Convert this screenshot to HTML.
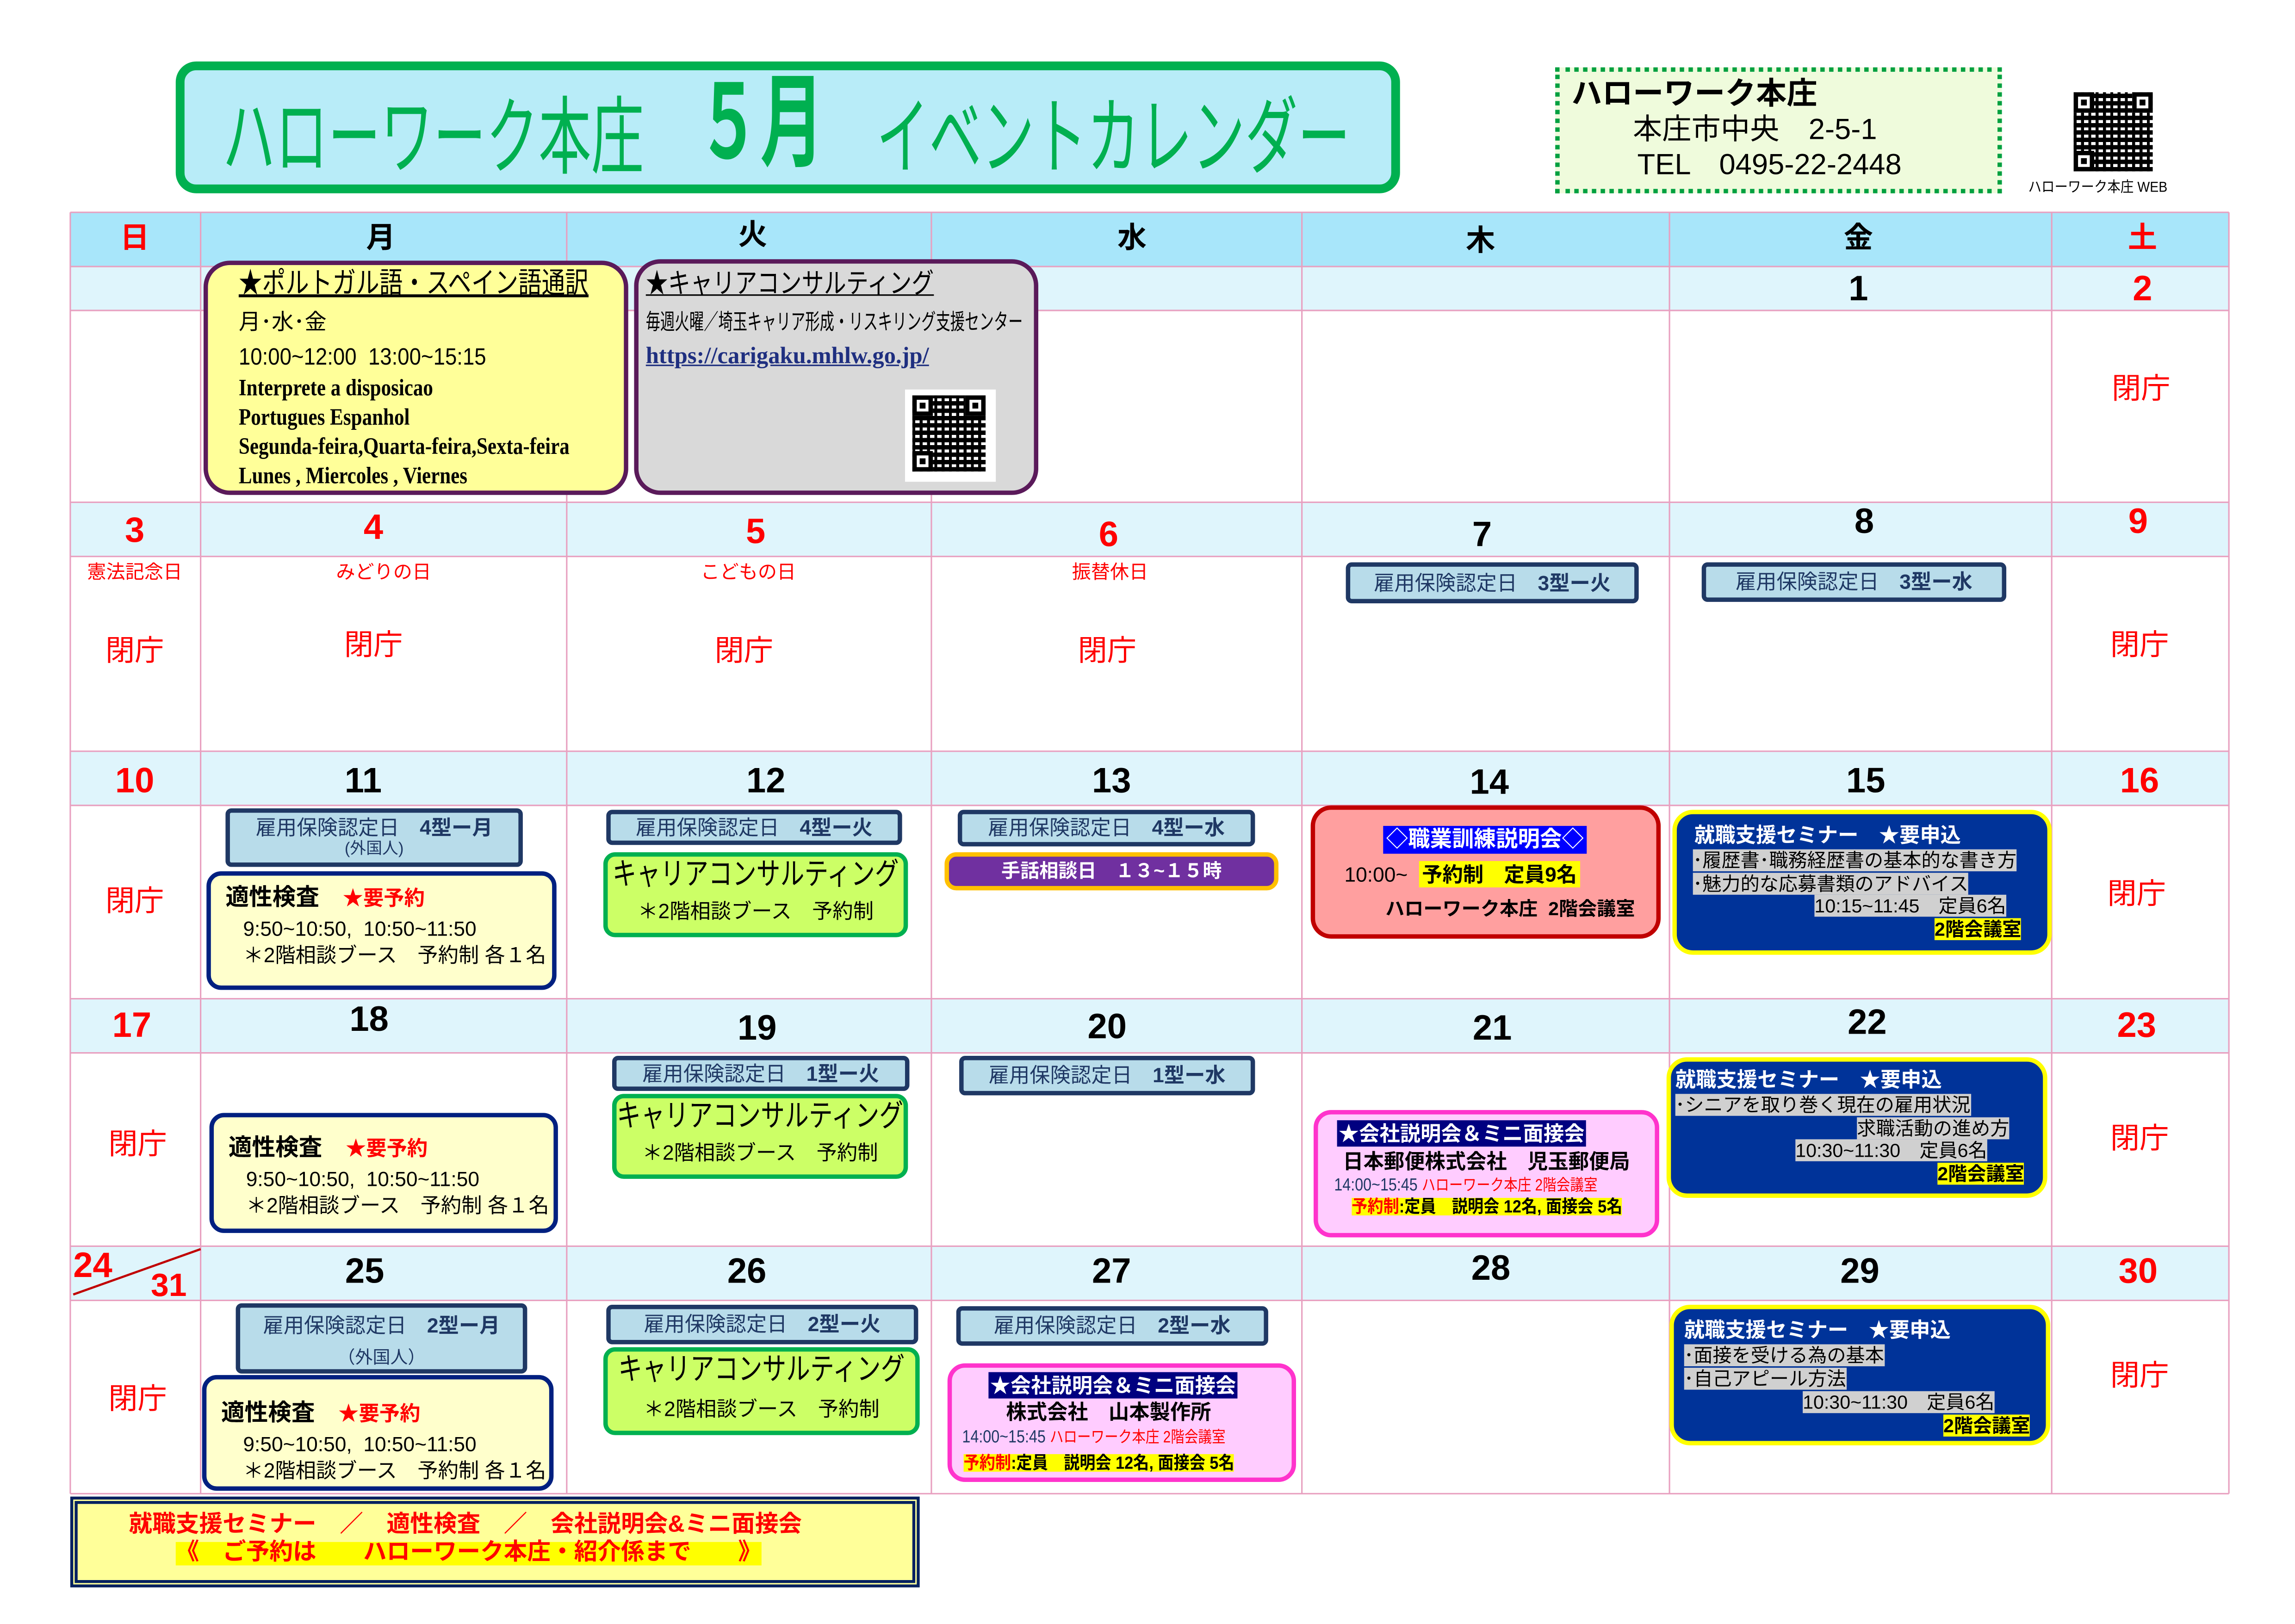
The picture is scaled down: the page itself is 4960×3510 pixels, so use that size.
<!DOCTYPE html>
<html><head><meta charset="utf-8">
<style>
*{margin:0;padding:0;box-sizing:border-box}
html,body{width:4960px;height:3509px;overflow:hidden;background:#fff}
#s{position:absolute;left:0;top:0;width:1567px;height:1109px;transform-origin:0 0;transform:scale(3.165,3.165);font-family:"Liberation Sans","Noto Sans CJK JP",sans-serif;color:#000}
.a{position:absolute;white-space:nowrap;line-height:1}
.c{transform:translateX(-50%)}
.b{position:absolute}
.d{font-size:24px;font-weight:bold}
.r{color:#f00}
.h{font-size:20px;color:#f00}
.k{position:absolute;background:#b8dcea;border:3px solid #1f3864;border-radius:4px;font-size:14px;text-align:center;line-height:20px;color:#1f3864;white-space:nowrap}
.k b{color:#1f3864}
.t{position:absolute;background:#ffffcc;border:3px solid #002080;border-radius:10px;font-size:14px;line-height:18px;padding:4px 0 0 10px;white-space:nowrap}
.cc{position:absolute;background:#ccff66;border:3px solid #00b050;border-radius:8px;white-space:nowrap}
.cc .t1{position:absolute;left:50%;top:2px;font-size:21px;line-height:1;transform:translateX(-50%) scaleX(0.78)}
.cc .t2{position:absolute;left:50%;bottom:8px;font-size:14px;line-height:1;transform:translateX(-50%)}
.nv{position:absolute;background:#003399;border:3px solid #ffff00;border-radius:14px;color:#fff;font-size:13px}
.g{background:#d0d0d0;color:#000}
.y{background:#ffff00;color:#000}
.pk{position:absolute;background:#ffccff;border:3px solid #ff33cc;border-radius:12px;text-align:center}
.qr{position:absolute;background-color:#fff;background-image:repeating-linear-gradient(90deg,#000 0 2px,transparent 2px 5px),repeating-linear-gradient(0deg,#000 0 3px,transparent 3px 5px)}
.fp{position:absolute;width:14px;height:14px;border:3px solid #000;background:#fff}
.fp:after{content:"";position:absolute;left:2px;top:2px;width:4px;height:4px;background:#000}
</style></head><body><div id="s">

<!-- title -->
<div class="b" style="left:120px;top:42px;width:836px;height:90px;border:6px solid #00b050;border-radius:14px;background:#b8ecf8"></div>
<div class="a" style="left:152px;top:55px;font-size:58px;color:#00b050;transform-origin:0 0;transform:scaleX(0.62)">ハローワーク本庄　<span style="font-weight:bold;font-size:70px;position:relative;top:-6px">５月</span>　イベントカレンダー</div>

<!-- info box -->
<div class="b" style="left:1062px;top:46px;width:305px;height:86px;border:3px dotted #00a040;background:#effbdc"></div>
<div class="a" style="left:1073px;top:54px;font-size:21px;font-weight:bold">ハローワーク本庄</div>
<div class="a" style="left:1115px;top:79px;font-size:20px">本庄市中央　2-5-1</div>
<div class="a" style="left:1118px;top:103px;font-size:20px">TEL　0495-22-2448</div>
<div class="qr" style="left:1416px;top:63px;width:54px;height:54px"></div>
<div class="fp" style="left:1416px;top:63px"></div><div class="fp" style="left:1456px;top:63px"></div><div class="fp" style="left:1416px;top:103px"></div>
<div class="a" style="left:1385px;top:124px;font-size:10px;transform-origin:0 0;transform:scaleX(0.9)">ハローワーク本庄 WEB</div>

<!-- grid -->
<svg class="b" style="left:0;top:0" width="1567" height="1109">
<rect x="48" y="145" width="1474" height="37" fill="#a8e6fa"/>
<g fill="#dff5fc">
<rect x="48" y="182" width="1474" height="30"/>
<rect x="48" y="343" width="1474" height="37"/>
<rect x="48" y="513" width="1474" height="37"/>
<rect x="48" y="682" width="1474" height="37"/>
<rect x="48" y="851" width="1474" height="37"/>
</g>
<g stroke="#e8a0c0" stroke-width="1">
<line x1="48" y1="145" x2="1522" y2="145"/><line x1="48" y1="182" x2="1522" y2="182"/><line x1="48" y1="212" x2="1522" y2="212"/>
<line x1="48" y1="343" x2="1522" y2="343"/><line x1="48" y1="380" x2="1522" y2="380"/>
<line x1="48" y1="513" x2="1522" y2="513"/><line x1="48" y1="550" x2="1522" y2="550"/>
<line x1="48" y1="682" x2="1522" y2="682"/><line x1="48" y1="719" x2="1522" y2="719"/>
<line x1="48" y1="851" x2="1522" y2="851"/><line x1="48" y1="888" x2="1522" y2="888"/>
<line x1="48" y1="1020" x2="1522" y2="1020"/>
<line x1="48" y1="145" x2="48" y2="1020"/><line x1="137" y1="145" x2="137" y2="1020"/><line x1="387" y1="145" x2="387" y2="1020"/>
<line x1="636" y1="145" x2="636" y2="1020"/><line x1="889" y1="145" x2="889" y2="1020"/><line x1="1140" y1="145" x2="1140" y2="1020"/>
<line x1="1401" y1="145" x2="1401" y2="1020"/><line x1="1522" y1="145" x2="1522" y2="1020"/>
</g>
<line x1="50" y1="884" x2="137" y2="853" stroke="#c00000" stroke-width="1.5"/>
</svg>

<!-- headers -->
<div class="a c r" style="left:92px;top:153px;font-size:20px;font-weight:bold">日</div>
<div class="a c" style="left:260px;top:153px;font-size:20px;font-weight:bold">月</div>
<div class="a c" style="left:514px;top:151px;font-size:20px;font-weight:bold">火</div>
<div class="a c" style="left:773px;top:153px;font-size:20px;font-weight:bold">水</div>
<div class="a c" style="left:1011px;top:155px;font-size:20px;font-weight:bold">木</div>
<div class="a c" style="left:1269px;top:153px;font-size:20px;font-weight:bold">金</div>
<div class="a c r" style="left:1463px;top:153px;font-size:20px;font-weight:bold">土</div>

<!-- dates -->
<div class="a c d" style="left:1269px;top:186px">1</div>
<div class="a c d r" style="left:1463px;top:186px">2</div>
<div class="a c d r" style="left:92px;top:351px">3</div>
<div class="a c d r" style="left:255px;top:349px">4</div>
<div class="a c d r" style="left:516px;top:352px">5</div>
<div class="a c d r" style="left:757px;top:354px">6</div>
<div class="a c d" style="left:1012px;top:354px">7</div>
<div class="a c d" style="left:1273px;top:345px">8</div>
<div class="a c d r" style="left:1460px;top:345px">9</div>
<div class="a c d r" style="left:92px;top:522px">10</div>
<div class="a c d" style="left:248px;top:522px">11</div>
<div class="a c d" style="left:523px;top:522px">12</div>
<div class="a c d" style="left:759px;top:522px">13</div>
<div class="a c d" style="left:1017px;top:523px">14</div>
<div class="a c d" style="left:1274px;top:522px">15</div>
<div class="a c d r" style="left:1461px;top:522px">16</div>
<div class="a c d r" style="left:90px;top:689px">17</div>
<div class="a c d" style="left:252px;top:685px">18</div>
<div class="a c d" style="left:517px;top:691px">19</div>
<div class="a c d" style="left:756px;top:690px">20</div>
<div class="a c d" style="left:1019px;top:691px">21</div>
<div class="a c d" style="left:1275px;top:687px">22</div>
<div class="a c d r" style="left:1459px;top:689px">23</div>
<div class="a d r" style="left:50px;top:853px">24</div>
<div class="a d r" style="left:103px;top:867px;font-size:22px">31</div>
<div class="a c d" style="left:249px;top:857px">25</div>
<div class="a c d" style="left:510px;top:857px">26</div>
<div class="a c d" style="left:759px;top:857px">27</div>
<div class="a c d" style="left:1018px;top:855px">28</div>
<div class="a c d" style="left:1270px;top:857px">29</div>
<div class="a c d r" style="left:1460px;top:857px">30</div>

<!-- holidays -->
<div class="a c r" style="left:92px;top:384px;font-size:13px">憲法記念日</div>
<div class="a c r" style="left:262px;top:384px;font-size:13px">みどりの日</div>
<div class="a c r" style="left:511px;top:384px;font-size:13px">こどもの日</div>
<div class="a c r" style="left:758px;top:384px;font-size:13px">振替休日</div>
<div class="a c h" style="left:1462px;top:256px">閉庁</div>
<div class="a c h" style="left:92px;top:435px">閉庁</div>
<div class="a c h" style="left:255px;top:431px">閉庁</div>
<div class="a c h" style="left:508px;top:435px">閉庁</div>
<div class="a c h" style="left:756px;top:435px">閉庁</div>
<div class="a c h" style="left:1461px;top:431px">閉庁</div>
<div class="a c h" style="left:92px;top:606px">閉庁</div>
<div class="a c h" style="left:1459px;top:601px">閉庁</div>
<div class="a c h" style="left:94px;top:772px">閉庁</div>
<div class="a c h" style="left:1461px;top:768px">閉庁</div>
<div class="a c h" style="left:94px;top:946px">閉庁</div>
<div class="a c h" style="left:1461px;top:930px">閉庁</div>

<!-- week1 events -->
<div class="b" style="left:139px;top:178px;width:290px;height:160px;background:#ffff99;border:3px solid #5a1a5a;border-radius:18px"></div>
<div class="a" style="left:163px;top:184px;font-size:20px;text-decoration:underline;transform-origin:0 0;transform:scaleX(0.8)">★ポルトガル語・スペイン語通訳</div>
<div class="a" style="left:163px;top:213px;font-size:15px">月･水･金</div>
<div class="a" style="left:163px;top:237px;font-size:16px;transform-origin:0 0;transform:scaleX(0.9)">10:00~12:00&nbsp; 13:00~15:15</div>
<div class="a" style="left:163px;top:258px;font-size:16px;font-weight:bold;font-family:'Liberation Serif',serif;transform-origin:0 0;transform:scaleX(0.85)">Interprete a disposicao</div>
<div class="a" style="left:163px;top:278px;font-size:16px;font-weight:bold;font-family:'Liberation Serif',serif;transform-origin:0 0;transform:scaleX(0.85)">Portugues Espanhol</div>
<div class="a" style="left:163px;top:298px;font-size:16px;font-weight:bold;font-family:'Liberation Serif',serif;transform-origin:0 0;transform:scaleX(0.85)">Segunda-feira,Quarta-feira,Sexta-feira</div>
<div class="a" style="left:163px;top:318px;font-size:16px;font-weight:bold;font-family:'Liberation Serif',serif;transform-origin:0 0;transform:scaleX(0.85)">Lunes , Miercoles , Viernes</div>

<div class="b" style="left:433px;top:177px;width:276px;height:161px;background:#d9d9d9;border:3px solid #5a1a5a;border-radius:18px"></div>
<div class="a" style="left:441px;top:185px;font-size:19px;text-decoration:underline;transform-origin:0 0;transform:scaleX(0.8)">★キャリアコンサルティング</div>
<div class="a" style="left:441px;top:213px;font-size:15px;transform-origin:0 0;transform:scaleX(0.66)">毎週火曜／埼玉キャリア形成・リスキリング支援センター</div>
<div class="a" style="left:441px;top:236px;font-size:16px;font-weight:bold;color:#1f2f80;text-decoration:underline;font-family:'Liberation Serif',serif">https://carigaku.mhlw.go.jp/</div>
<div class="b" style="left:618px;top:266px;width:62px;height:63px;background:#fff"></div>
<div class="qr" style="left:623px;top:270px;width:50px;height:52px"></div>
<div class="fp" style="left:623px;top:270px"></div><div class="fp" style="left:659px;top:270px"></div><div class="fp" style="left:623px;top:308px"></div>

<!-- week2 -->
<div class="k" style="left:919px;top:384px;width:200px;height:28px;line-height:22px">雇用保険認定日　<b>3型ー火</b></div>
<div class="k" style="left:1162px;top:384px;width:208px;height:27px;line-height:21px">雇用保険認定日　<b>3型ー水</b></div>

<!-- week3 -->
<div class="k" style="left:154px;top:552px;width:203px;height:40px;line-height:20px">雇用保険認定日　<b>4型ー月</b><div style="font-size:11px;line-height:11px">(外国人)</div></div>
<div class="t" style="left:141px;top:595px;width:239px;height:81px"><div style="font-size:16px;font-weight:bold;line-height:22px">適性検査　<span class="r" style="font-size:14px">★要予約</span></div><div style="padding-left:12px">9:50~10:50,&nbsp; 10:50~11:50</div><div style="padding-left:12px">＊2階相談ブース　予約制 各１名</div></div>
<div class="k" style="left:414px;top:553px;width:202px;height:24px;line-height:18px">雇用保険認定日　<b>4型ー火</b></div>
<div class="cc" style="left:412px;top:582px;width:208px;height:58px"><div class="t1">キャリアコンサルティング</div><div class="t2">＊2階相談ブース　予約制</div></div>
<div class="k" style="left:654px;top:553px;width:203px;height:25px;line-height:19px">雇用保険認定日　<b>4型ー水</b></div>
<div class="b" style="left:645px;top:582px;width:228px;height:26px;background:#7030a0;border:3px solid #ffc000;border-radius:8px;color:#fff;font-size:13px;font-weight:bold;text-align:center;line-height:20px;white-space:nowrap">手話相談日　１３~１５時</div>
<div class="b" style="left:895px;top:550px;width:239px;height:91px;background:#ff9f9f;border:3px solid #c00000;border-radius:14px"></div>
<div class="a c" style="left:1014px;top:564px;font-size:15px;font-weight:bold;color:#fff;background:#0000ff;padding:2px 2px">◇職業訓練説明会◇</div>
<div class="a" style="left:918px;top:590px;font-size:14px">10:00~&nbsp; <span class="y" style="font-weight:bold;padding:1px 2px">予約制　定員9名</span></div>
<div class="a" style="left:946px;top:614px;font-size:13px;font-weight:bold">ハローワーク本庄&nbsp; 2階会議室</div>
<div class="nv" style="left:1142px;top:553px;width:259px;height:99px"></div>
<div class="a" style="left:1157px;top:563px;font-size:14px;font-weight:bold;color:#fff">就職支援セミナー　★要申込</div>
<div class="a g" style="left:1156px;top:580px;font-size:13px;padding:1px 0">･履歴書･職務経歴書の基本的な書き方</div>
<div class="a g" style="left:1156px;top:596px;font-size:13px;padding:1px 0">･魅力的な応募書類のアドバイス</div>
<div class="a g" style="left:1239px;top:611px;font-size:13px;padding:1px 0">10:15~11:45　定員6名</div>
<div class="a y" style="left:1321px;top:627px;font-size:13px;font-weight:bold;padding:1px 0">2階会議室</div>

<!-- week4 -->
<div class="t" style="left:143px;top:760px;width:238px;height:82px;padding-top:10px"><div style="font-size:16px;font-weight:bold;line-height:22px">適性検査　<span class="r" style="font-size:14px">★要予約</span></div><div style="padding-left:12px">9:50~10:50,&nbsp; 10:50~11:50</div><div style="padding-left:12px">＊2階相談ブース　予約制 各１名</div></div>
<div class="k" style="left:418px;top:721px;width:203px;height:24px;line-height:18px">雇用保険認定日　<b>1型ー火</b></div>
<div class="cc" style="left:418px;top:747px;width:202px;height:58px"><div class="t1">キャリアコンサルティング</div><div class="t2">＊2階相談ブース　予約制</div></div>
<div class="k" style="left:655px;top:721px;width:202px;height:27px;line-height:21px">雇用保険認定日　<b>1型ー水</b></div>
<div class="pk" style="left:897px;top:758px;width:236px;height:87px"></div>
<div class="a" style="left:913px;top:765px;font-size:14px;font-weight:bold;color:#fff;background:#000080;padding:2px 1px">★会社説明会＆ミニ面接会</div>
<div class="a" style="left:917px;top:786px;font-size:14px;font-weight:bold">日本郵便株式会社　児玉郵便局</div>
<div class="a" style="left:911px;top:803px;font-size:12px;color:#1f3864;transform-origin:0 0;transform:scaleX(0.85)">14:00~15:45 <span class="r" style="font-size:11px">ハローワーク本庄 2階会議室</span></div>
<div class="a y" style="left:923px;top:818px;font-size:12px;font-weight:bold;transform-origin:0 0;transform:scaleX(0.9)"><span class="r">予約制</span>:定員　説明会 12名, 面接会 5名</div>
<div class="nv" style="left:1138px;top:722px;width:260px;height:96px"></div>
<div class="a" style="left:1144px;top:730px;font-size:14px;font-weight:bold;color:#fff">就職支援セミナー　★要申込</div>
<div class="a g" style="left:1144px;top:747px;font-size:13px;padding:1px 0">･シニアを取り巻く現在の雇用状況</div>
<div class="a g" style="left:1268px;top:763px;font-size:13px;padding:1px 0">求職活動の進め方</div>
<div class="a g" style="left:1226px;top:778px;font-size:13px;padding:1px 0">10:30~11:30　定員6名</div>
<div class="a y" style="left:1323px;top:794px;font-size:13px;font-weight:bold;padding:1px 0">2階会議室</div>

<!-- week5 -->
<div class="k" style="left:161px;top:890px;width:199px;height:48px;line-height:22px;padding-top:1px">雇用保険認定日　<b>2型ー月</b><div style="font-size:12px;line-height:22px">（外国人）</div></div>
<div class="t" style="left:138px;top:939px;width:240px;height:79px;padding-top:12px"><div style="font-size:16px;font-weight:bold;line-height:22px">適性検査　<span class="r" style="font-size:14px">★要予約</span></div><div style="padding-left:15px">9:50~10:50,&nbsp; 10:50~11:50</div><div style="padding-left:15px">＊2階相談ブース　予約制 各１名</div></div>
<div class="k" style="left:414px;top:891px;width:213px;height:27px;line-height:21px">雇用保険認定日　<b>2型ー火</b></div>
<div class="cc" style="left:412px;top:920px;width:216px;height:60px"><div class="t1">キャリアコンサルティング</div><div class="t2">＊2階相談ブース　予約制</div></div>
<div class="k" style="left:653px;top:892px;width:213px;height:27px;line-height:21px">雇用保険認定日　<b>2型ー水</b></div>
<div class="pk" style="left:647px;top:931px;width:238px;height:81px"></div>
<div class="a" style="left:675px;top:937px;font-size:14px;font-weight:bold;color:#fff;background:#000080;padding:2px 1px">★会社説明会＆ミニ面接会</div>
<div class="a" style="left:687px;top:957px;font-size:14px;font-weight:bold">株式会社　山本製作所</div>
<div class="a" style="left:657px;top:975px;font-size:12px;color:#1f3864;transform-origin:0 0;transform:scaleX(0.85)">14:00~15:45 <span class="r" style="font-size:11px">ハローワーク本庄 2階会議室</span></div>
<div class="a y" style="left:658px;top:993px;font-size:12px;font-weight:bold;transform-origin:0 0;transform:scaleX(0.9)"><span class="r">予約制</span>:定員　説明会 12名, 面接会 5名</div>
<div class="nv" style="left:1140px;top:891px;width:260px;height:96px"></div>
<div class="a" style="left:1150px;top:901px;font-size:14px;font-weight:bold;color:#fff">就職支援セミナー　★要申込</div>
<div class="a g" style="left:1150px;top:918px;font-size:13px;padding:1px 0">･面接を受ける為の基本</div>
<div class="a g" style="left:1150px;top:934px;font-size:13px;padding:1px 0">･自己アピール方法</div>
<div class="a g" style="left:1231px;top:950px;font-size:13px;padding:1px 0">10:30~11:30　定員6名</div>
<div class="a y" style="left:1327px;top:966px;font-size:13px;font-weight:bold;padding:1px 0">2階会議室</div>

<!-- bottom note -->
<div class="b" style="left:48px;top:1022px;width:580px;height:62px;border:5px double #002060;background:#ffff99"></div>
<div class="a r" style="left:88px;top:1034px;font-size:16px;font-weight:bold">就職支援セミナー　／　適性検査　／　会社説明会&amp;ミニ面接会</div>
<div class="a r" style="left:120px;top:1053px;font-size:16px;font-weight:bold;background:#ffff00">《　ご予約は　　ハローワーク本庄・紹介係まで　　》</div>

</div></body></html>
